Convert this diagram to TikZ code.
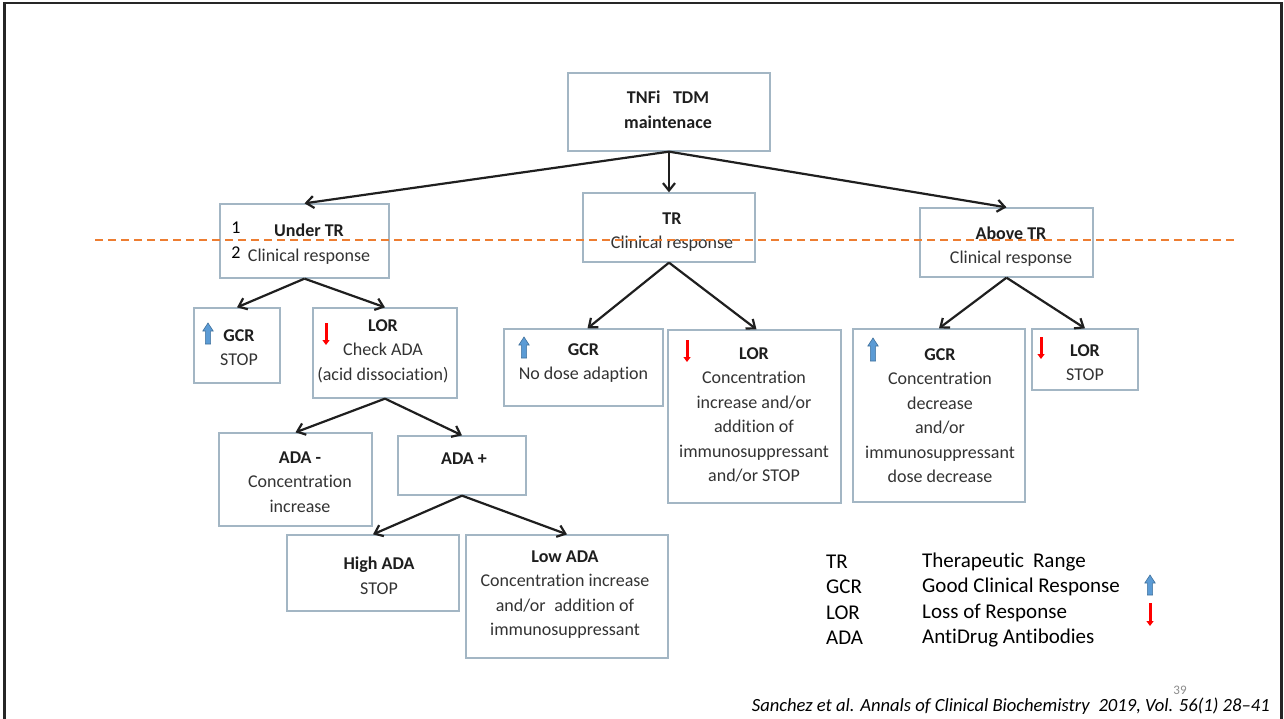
\documentclass[tikz,border=0pt]{standalone}
\usepackage{fontspec}
\setmainfont{Carlito}[Ligatures={NoCommon}]
\usetikzlibrary{arrows.meta}
\definecolor{boxline}{HTML}{A3B6C4}
\definecolor{boxtext}{HTML}{333333}
\definecolor{headtext}{HTML}{1E1E1E}
\definecolor{dashorange}{HTML}{ED7D31}
\definecolor{upfill}{HTML}{5B9BD5}
\definecolor{upedge}{HTML}{41719C}
\newcommand{\upicon}[3]{%
  \filldraw[fill=upfill,draw=upedge,line width=0.6pt]
    ({#1-2.6},#3) -- ({#1-2.6},{#2+8}) -- ({#1-5.2},{#2+8}) -- (#1,#2) --
    ({#1+5.2},{#2+8}) -- ({#1+2.6},{#2+8}) -- ({#1+2.6},#3) -- cycle;}
\newcommand{\downicon}[3]{%
  \draw[red,line width=3pt,-{Triangle[length=5pt,width=7pt]}] (#1,#2) -- (#1,#3);}
\begin{document}
\begin{tikzpicture}[x=1pt,y=-1pt,
  box/.style={draw=boxline,line width=1.3pt,fill=white,inner sep=0pt},
  txt/.style={align=center,text=boxtext,inner sep=0pt,font=\fontsize{18}{24.5}\selectfont},
  conn/.style={draw=black!88,line width=2.2pt,-{Straight Barb[length=7.5pt,width=12pt,line width=2.2pt]}},
  leg/.style={anchor=west,inner sep=0pt,font=\fontsize{21}{25}\selectfont}]
\useasboundingbox (0,0) rectangle (1284,719);
\fill[white] (0,0) rectangle (1284,719);
\draw[black!85,line width=2.6pt] (4.5,719) -- (4.5,3) -- (1281.5,3) -- (1281.5,719);

% boxes
\node[box,minimum width=202pt,minimum height=78pt] (top) at (669,112) {};
\node[box,minimum width=169pt,minimum height=74pt] (under) at (304.5,241) {};
\node[box,minimum width=172pt,minimum height=69pt] (tr) at (669,227.5) {};
\node[box,minimum width=173pt,minimum height=69pt] (above) at (1006.5,242.5) {};
\node[box,minimum width=86pt,minimum height=75pt] (gcra) at (237,345.5) {};
\node[box,minimum width=144pt,minimum height=90pt] (lora) at (385,353) {};
\node[box,minimum width=159pt,minimum height=77pt] (gcrb) at (583.5,367.5) {};
\node[box,minimum width=173pt,minimum height=173pt] (lorb) at (754.5,416.5) {};
\node[box,minimum width=172pt,minimum height=173pt] (gcrc) at (939,415.5) {};
\node[box,minimum width=106pt,minimum height=61pt] (lorc) at (1085,359.5) {};
\node[box,minimum width=153pt,minimum height=93pt] (adam) at (295.5,479.5) {};
\node[box,minimum width=128pt,minimum height=59pt] (adap) at (462,465.5) {};
\node[box,minimum width=172pt,minimum height=76pt] (high) at (373,573) {};
\node[box,minimum width=202pt,minimum height=123pt] (low) at (567,596.5) {};

% texts
\node[txt] (top-t) at (668,110) {\textbf{\color{headtext}TNFi\hspace{0.7em}TDM}\\\textbf{\color{headtext}maintenace}};
\node[txt] (under-t) at (309,244) {\textbf{\color{headtext}Under TR}\\Clinical response};
\node[txt,text=black] (under-1) at (236,228) {1};
\node[txt,text=black] (under-2) at (236,253) {2};
\node[txt] (tr-t) at (672,232) {\textbf{\color{headtext}TR}\\Clinical response};
\node[txt] (above-t) at (1011,246.5) {\textbf{\color{headtext}Above TR}\\Clinical response};
\node[txt] (gcra-t) at (239,347.5) {\textbf{\color{headtext}GCR}\\STOP};
\node[txt] (lora-t) at (383,351) {\textbf{\color{headtext}LOR}\\Check ADA\\(acid dissociation)};
\node[txt] (gcrb-t) at (583.5,363) {\textbf{\color{headtext}GCR}\\No dose adaption};
\node[txt] (lorb-t) at (754,415) {\textbf{\color{headtext}LOR}\\Concentration\\increase and/or\\addition of\\immunosuppressant\\and/or STOP};
\node[txt] (gcrc-t) at (940,415.5) {\textbf{\color{headtext}GCR}\\Concentration\\decrease\\and/or\\immunosuppressant\\dose decrease};
\node[txt] (lorc-t) at (1085,362.5) {\textbf{\color{headtext}LOR}\\STOP};
\node[txt] (adam-t) at (300,482) {\textbf{\color{headtext}ADA -}\\Concentration\\increase};
\node[txt] (adap-t) at (464,459) {\textbf{\color{headtext}ADA +}};
\node[txt] (high-t) at (379,575.5) {\textbf{\color{headtext}High ADA}\\STOP};
\node[txt] (low-t) at (565,594.5) {\textbf{\color{headtext}Low ADA}\\Concentration increase\\and/or\hspace{0.25em} addition of\\immunosuppressant};

% small arrows in boxes
\upicon{208}{323}{344}
\downicon{326}{323}{345}
\upicon{524}{337}{358}
\downicon{687}{340}{362}
\upicon{873}{338}{361}
\downicon{1041}{337}{359}

% connectors
\draw[conn] (top.south) -- (under.north);
\draw[conn] (top.south) -- (tr.north);
\draw[conn] (top.south) -- (above.north);
\draw[conn] (under.south) -- (gcra.north);
\draw[conn] (under.south) -- (lora.north);
\draw[conn] (tr.south) -- ([xshift=4pt]gcrb.north);
\draw[conn] (tr.south) -- ([xshift=2pt]lorb.north);
\draw[conn] (above.south) -- (gcrc.north);
\draw[conn] (above.south) -- (lorc.north);
\draw[conn] (lora.south) -- (adam.north);
\draw[conn] (lora.south) -- (adap.north);
\draw[conn] (adap.south) -- (high.north);
\draw[conn] (adap.south) -- (low.north);

% dashed orange line
\coordinate (dl) at (95,240);
\coordinate (dr) at (1238,240);
\draw[dashorange,line width=1.6pt,dash pattern=on 8pt off 5pt] (dl) -- (dr);

% legend
\node[leg] (l1a) at (826,562) {TR};
\node[leg] (l1b) at (922,562) {Therapeutic\hspace{0.2em} Range};
\node[leg] (l2a) at (826,587) {GCR};
\node[leg] (l2b) at (922,587) {Good Clinical Response};
\node[leg] (l3a) at (826,613) {LOR};
\node[leg] (l3b) at (922,613) {Loss of Response};
\node[leg] (l4a) at (826,638) {ADA};
\node[leg] (l4b) at (922,638) {AntiDrug Antibodies};
\upicon{1150}{575}{595}
\downicon{1150}{603}{626}

% page number and citation
\node[text=black!45,inner sep=0pt,font=\fontsize{13}{15}\selectfont] (pg) at (1180,690) {39};
\node[anchor=east,inner sep=0pt,font=\itshape\fontsize{18.6}{20}\selectfont] (cite) at (1270,706) {Sanchez et al. Annals of Clinical Biochemistry\hspace{0.25em} 2019, Vol. 56(1) 28–41};
\end{tikzpicture}
\end{document}
